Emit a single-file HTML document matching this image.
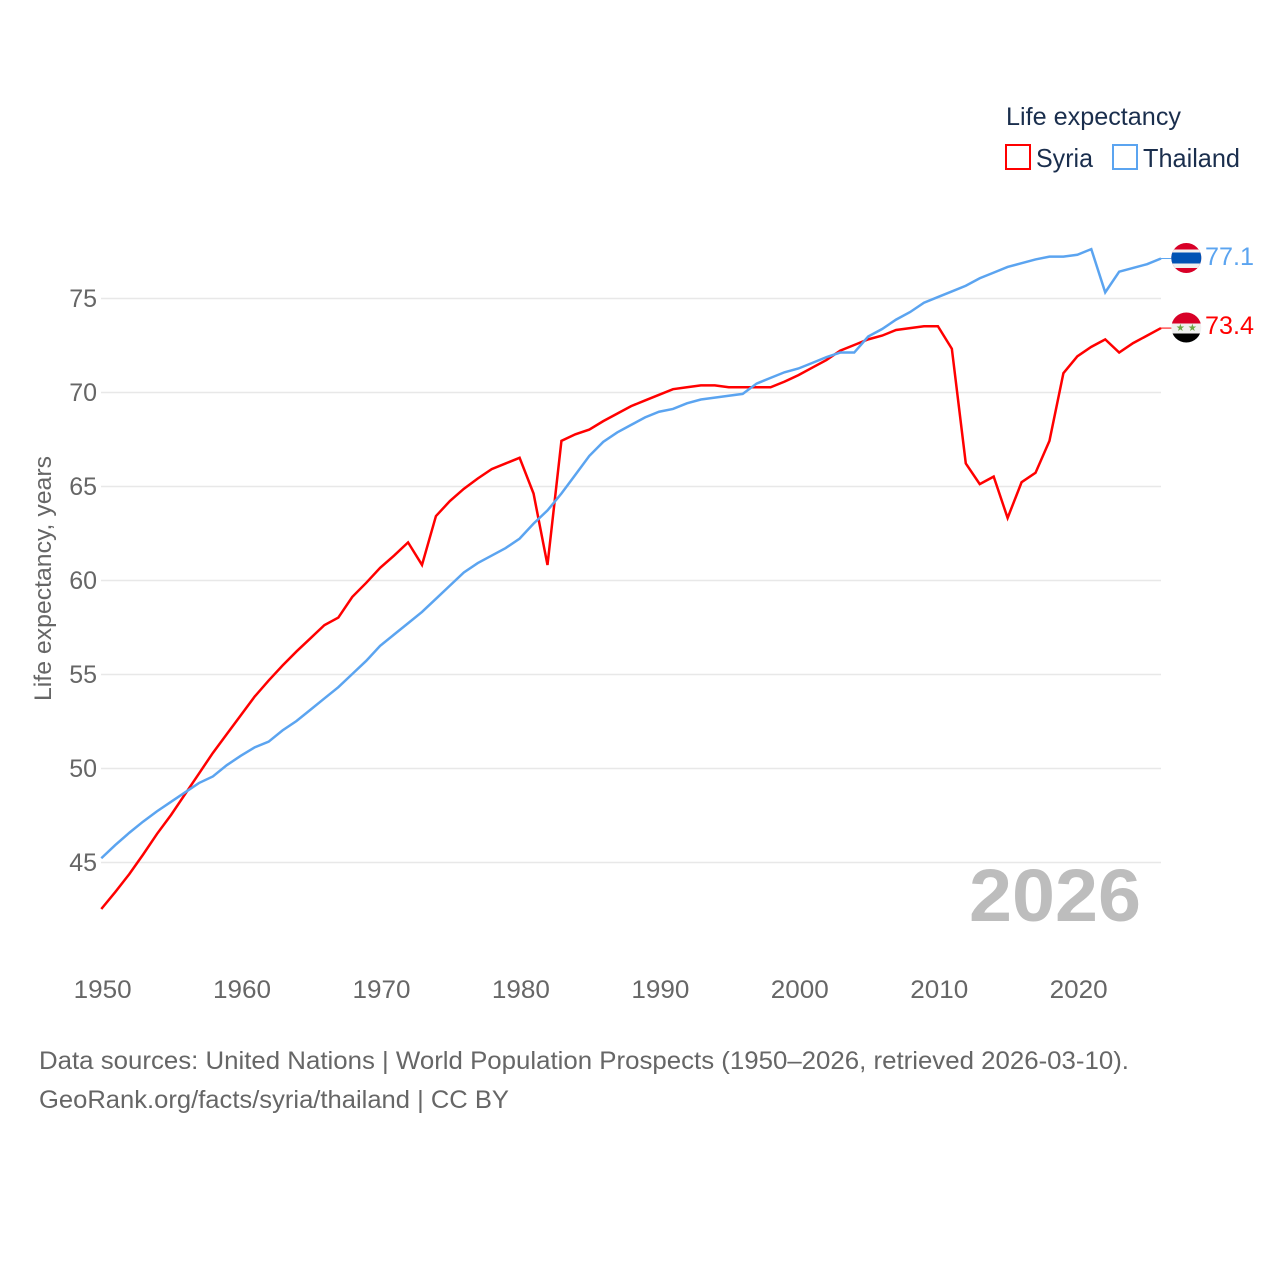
<!DOCTYPE html>
<html lang="en">
<head>
<meta charset="utf-8">
<title>Life expectancy: Syria and Thailand</title>
<style>
html,body{margin:0;padding:0;background:#fff;width:1280px;height:1280px;overflow:hidden}
svg{display:block}
text{font-family:"Liberation Sans",sans-serif}
</style>
</head>
<body>
<svg id="chart" width="1280" height="1280" viewBox="0 0 1280 1280" xmlns="http://www.w3.org/2000/svg">
  <g id="grid"></g>
  <g id="yticks"></g>
  <g id="xticks"></g>
  <text transform="translate(51,701) rotate(-90)" font-size="24" fill="#666" textLength="245" lengthAdjust="spacingAndGlyphs">Life expectancy, years</text>
  <text x="969" y="921" font-size="74" font-weight="700" fill="#bdbdbd" textLength="172" lengthAdjust="spacingAndGlyphs">2026</text>
  <g id="series"></g>

  <g>
    <text x="1006" y="125" font-size="25" fill="#1a2e4d" textLength="175" lengthAdjust="spacingAndGlyphs">Life expectancy</text>
    <g>
      <rect x="1006" y="145" width="24" height="24" fill="#fff" stroke="#ff0000" stroke-width="2"/>
      <text x="1036" y="167" font-size="26" fill="#1a2e4d" textLength="57" lengthAdjust="spacingAndGlyphs">Syria</text>
    </g>
    <g>
      <rect x="1113" y="145" width="24" height="24" fill="#fff" stroke="#5ba4f0" stroke-width="2"/>
      <text x="1143" y="167" font-size="26" fill="#1a2e4d" textLength="97" lengthAdjust="spacingAndGlyphs">Thailand</text>
    </g>
  </g>

  <defs>
    <clipPath id="flag-clip-th"><circle cx="1186.300" cy="258" r="15"/></clipPath>
    <clipPath id="flag-clip-sy"><circle cx="1186.300" cy="327.500" r="15"/></clipPath>
  </defs>
  <g clip-path="url(#flag-clip-th)">
    <rect x="1171" y="243" width="31" height="31" fill="#d80027"/>
    <rect x="1171" y="249.500" width="31" height="18.500" fill="#f0f0f0"/>
    <rect x="1171" y="252.500" width="31" height="11" fill="#0052b4"/>
  </g>
  <g clip-path="url(#flag-clip-sy)">
    <rect x="1171" y="312" width="31" height="11.500" fill="#d80027"/>
    <rect x="1171" y="323.500" width="31" height="10" fill="#f0f0f0"/>
    <rect x="1171" y="333.500" width="31" height="10" fill="#000"/>
    <text x="1180.300" y="331" font-size="10" fill="#6da544" text-anchor="middle">★</text>
    <text x="1192.300" y="331" font-size="10" fill="#6da544" text-anchor="middle">★</text>
  </g>
  <text x="1205" y="265" font-size="25" fill="#5ba4f0" textLength="49" lengthAdjust="spacingAndGlyphs">77.1</text>
  <text x="1205" y="334" font-size="25" fill="#ff0000" textLength="49" lengthAdjust="spacingAndGlyphs">73.4</text>

  <g>
    <text x="39" y="1069" font-size="25" fill="#666" textLength="1090" lengthAdjust="spacingAndGlyphs">Data sources: United Nations | World Population Prospects (1950–2026, retrieved 2026-03-10).</text>
    <text x="39" y="1108" font-size="25" fill="#666" textLength="470" lengthAdjust="spacingAndGlyphs">GeoRank.org/facts/syria/thailand | CC BY</text>
  </g>
</svg>
<script>
const firstYear = 1950;
const syriaValues = [42.5,43.4,44.35,45.4,46.5,47.5,48.6,49.7,50.8,51.8,52.8,53.8,54.65,55.45,56.2,56.9,57.6,58.0,59.1,59.85,60.65,61.3,62.0,60.8,63.4,64.2,64.85,65.4,65.9,66.2,66.5,64.6,60.8,67.4,67.75,68.0,68.45,68.85,69.25,69.55,69.85,70.15,70.25,70.35,70.35,70.25,70.25,70.25,70.25,70.55,70.9,71.3,71.7,72.2,72.5,72.8,73.0,73.3,73.4,73.5,73.5,72.3,66.2,65.1,65.5,63.3,65.2,65.7,67.4,71.0,71.9,72.4,72.8,72.1,72.6,73.0,73.4];
const thailandValues = [45.2,45.9,46.55,47.15,47.7,48.2,48.7,49.2,49.55,50.15,50.65,51.1,51.4,52.0,52.5,53.1,53.7,54.3,55.0,55.7,56.5,57.1,57.7,58.3,59.0,59.7,60.4,60.9,61.3,61.7,62.2,63.0,63.7,64.6,65.6,66.6,67.35,67.85,68.25,68.65,68.95,69.1,69.4,69.6,69.7,69.8,69.9,70.45,70.75,71.05,71.25,71.55,71.85,72.1,72.1,72.95,73.35,73.85,74.25,74.75,75.05,75.35,75.65,76.05,76.35,76.65,76.85,77.05,77.2,77.2,77.3,77.6,75.3,76.4,76.6,76.8,77.1];
const yTickValues = [45,50,55,60,65,70,75];
const xTickValues = [1950,1960,1970,1980,1990,2000,2010,2020];

const NS = 'http://www.w3.org/2000/svg';
const xAxis = function (year) { return 101.3 + (year - 1950) * (1161 - 101.3) / 76; };
const yAxis = function (value) { return 862 - (value - 45) * (862 - 298) / 30; };

function svgEl(tag, parent) {
  const el = document.createElementNS(NS, tag);
  parent.appendChild(el);
  return el;
}

const grid = document.getElementById('grid');
const yticks = document.getElementById('yticks');
const xticks = document.getElementById('xticks');
const series = document.getElementById('series');

yTickValues.forEach(function (v) {
  const line = svgEl('line', grid);
  
  
  line.setAttribute('x1', 101);
  line.setAttribute('x2', 1161);
  line.setAttribute('y1', yAxis(v) + 0.5);
  line.setAttribute('y2', yAxis(v) + 0.5);
  line.setAttribute('stroke', '#e8e8e8');
  line.setAttribute('stroke-width', '1.4');

  const label = svgEl('text', yticks);
  
  
  label.setAttribute('x', 97);
  label.setAttribute('y', yAxis(v) + 9);
  label.setAttribute('text-anchor', 'end');
  label.setAttribute('font-size', '25');
  label.setAttribute('fill', '#666');
  label.textContent = v;
});

xTickValues.forEach(function (year) {
  const label = svgEl('text', xticks);
  
  
  label.setAttribute('x', xAxis(year) + 1.3);
  label.setAttribute('y', 998);
  label.setAttribute('text-anchor', 'middle');
  label.setAttribute('font-size', '25');
  label.setAttribute('fill', '#666');
  label.setAttribute('textLength', '58');
  label.setAttribute('lengthAdjust', 'spacingAndGlyphs');
  label.textContent = year;
});

function drawSeries(values, color, name) {
  const lastY = yAxis(values[values.length - 1]);
  const connector = svgEl('line', series);
  
  
  connector.setAttribute('x1', xAxis(firstYear + values.length - 1));
  connector.setAttribute('x2', 1172);
  connector.setAttribute('y1', lastY);
  connector.setAttribute('y2', lastY);
  connector.setAttribute('stroke', color);
  connector.setAttribute('stroke-width', '1');

  const pts = values.map(function (v, i) {
    return xAxis(firstYear + i).toFixed(2) + ',' + yAxis(v).toFixed(2);
  });
  const line = svgEl('polyline', series);
  
  
  line.setAttribute('points', pts.join(' '));
  line.setAttribute('fill', 'none');
  line.setAttribute('stroke', color);
  line.setAttribute('stroke-width', '2.5');
  line.setAttribute('stroke-linejoin', 'miter');
}

drawSeries(syriaValues, '#ff0000', 'syria');
drawSeries(thailandValues, '#5ba4f0', 'thailand');
</script>
</body>
</html>
